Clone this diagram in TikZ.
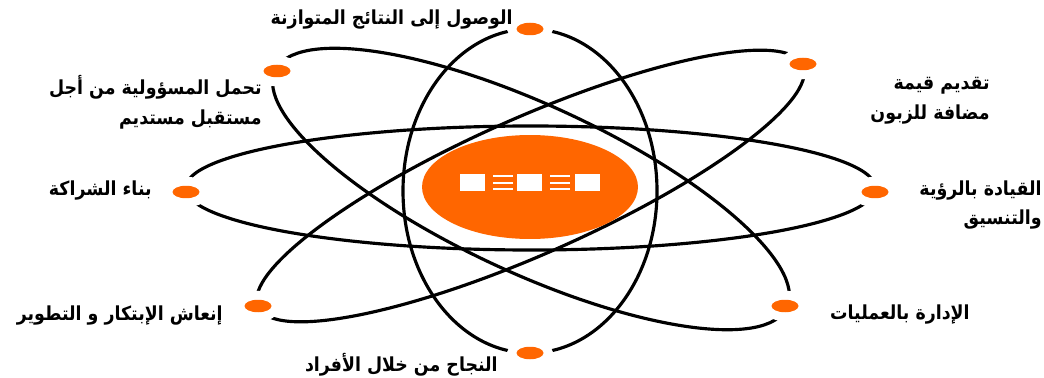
\documentclass[tikz,border=0pt]{standalone}
\usepackage{fontspec}
\usetikzlibrary{shapes.geometric}
\TeXXeTstate=1
\newfontfamily\arabicfont[Script=Arabic, FakeStretch=0.9]{DejaVu Sans}
\definecolor{atomorange}{RGB}{255,102,0}

\begin{document}
\begin{tikzpicture}[
  x=0.02cm, y=-0.02cm,
  font=\arabicfont\bfseries\fontsize{11}{17}\selectfont,
  orbit/.style={draw=black, line width=1.8pt},
  core/.style={ellipse, fill=atomorange, minimum width=4.32cm, minimum height=2.08cm, inner sep=0pt},
  electron/.style={ellipse, fill=atomorange, minimum width=0.54cm, minimum height=0.25cm,
                   inner sep=0pt, preaction={draw=white, line width=0.36cm}},
  goal/.style={anchor=east, inner sep=0pt, align=right, text=black}
]
  \useasboundingbox (0,0) rectangle (1044,378);
  % orbits
  \draw[orbit] (530,191) ellipse [x radius=127, y radius=162];
  \draw[orbit] (530.5,188) ellipse [x radius=345, y radius=62];
  \draw[orbit] (531,189) ellipse [x radius=282, y radius=84, rotate=-24.8];
  \draw[orbit] (530.5,186) ellipse [x radius=298, y radius=68, rotate=23.9];
  % nucleus
  \node[core] (core) at (530,187) {};
  \foreach \bx in {460,517,575}
    \fill[white] (\bx,174) rectangle +(25,17);
  \foreach \lx in {493,550}
    \foreach \ly in {176,183,189}
      \draw[white, line width=1.1pt] (\lx,\ly) -- +(20,0);
  % electrons
  \node[electron] (e1) at (530,29) {};
  \node[electron] (e2) at (803,64) {};
  \node[electron] (e3) at (875,192) {};
  \node[electron] (e4) at (785,306) {};
  \node[electron] (e5) at (530,353) {};
  \node[electron] (e6) at (258,306) {};
  \node[electron] (e7) at (186,192) {};
  \node[electron] (e8) at (277,71) {};
  % labels
  \node[goal] (g1) at (513,20) {\beginR الوصول إلى النتائج المتوازنة\endR};
  \node[goal] (g2) at (990,101) {\beginR تقديم قيمة\endR\\\beginR مضافة للزبون\endR};
  \node[goal] (g3) at (1042,205) {\beginR القيادة بالرؤية\endR\\\beginR والتنسيق\endR};
  \node[goal] (g4) at (970,315) {\beginR الإدارة بالعمليات\endR};
  \node[goal] (g5) at (498,365) {\beginR النجاح من خلال الأفراد\endR};
  \node[goal] (g6) at (223,316) {\beginR إنعاش الإبتكار و التطوير\endR};
  \node[goal] (g7) at (152,191) {\beginR بناء الشراكة\endR};
  \node[goal] (g8) at (262,102) {\beginR تحمل المسؤولية من أجل\endR\\\beginR مستقبل مستديم\endR};
\end{tikzpicture}
\end{document}
